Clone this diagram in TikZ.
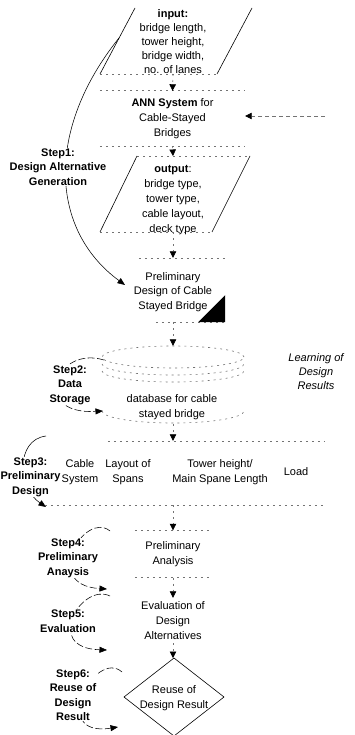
\documentclass[tikz,border=0pt]{standalone}
\usepackage{fontspec}
\setmainfont{Liberation Sans}
\usetikzlibrary{arrows.meta,calc,backgrounds}
\begin{document}
\begin{tikzpicture}[x=1pt,y=-1pt,
  txt/.style={font=\fontsize{11}{14.8}\selectfont, align=center, inner sep=0pt},
  lbl/.style={font=\fontsize{11}{14.5}\selectfont\bfseries, align=center, inner sep=0.5pt, fill=white},
  boxline/.style={black!55, line width=0.6pt, dash pattern=on 2pt off 4pt},
  side/.style={black, line width=0.6pt},
  arr/.style={black!55, line width=0.6pt, dash pattern=on 2pt off 4pt, -{Triangle[color=black,width=6.5pt,length=6.5pt]}},
  stepline/.style={black, line width=0.55pt, -{Triangle[width=6pt,length=7.5pt]}},
  brokenline/.style={dash pattern=on 7pt off 2.5pt},
  box/.style={rectangle, minimum width=#1, inner sep=0pt},
]
\useasboundingbox (0,0) rectangle (354,735);

% input
\coordinate (i1) at (135,8);
\coordinate (i2) at (252,8);
\coordinate (i3) at (217,74);
\coordinate (i4) at (100,74);
\draw[side] (i1) -- (i4) (i2) -- (i3);
\draw[boxline] (i4) -- (i3);
\node[txt, font=\fontsize{11}{14}\selectfont] (inp) at (173,42) {\textbf{input:}\\bridge length,\\tower height,\\bridge width,\\no. of lanes};
\coordinate (inb) at (173,74);

% ANN
\node[box=145pt, minimum height=55pt, txt] (ann) at (172.5,118.5) {\textbf{ANN System} for\\Cable-Stayed\\Bridges};
\draw[boxline] (ann.north west) -- (ann.north east) (ann.south west) -- (ann.south east);
\draw[arr] (inb) -- (ann.north);
\coordinate (lrn) at (325,116);
\draw[arr, dash pattern=on 4pt off 3pt] (lrn) -- (lrn -| ann.east);

% output
\coordinate (o1) at (137,156);
\coordinate (o2) at (250,156);
\coordinate (o3) at (212,232);
\coordinate (o4) at (100,232);
\draw[boxline] (o1) -- (o2) (o4) -- (o3);
\draw[side] (o1) -- (o4) (o2) -- (o3);
\node[txt] (outt) at (173,200) {\textbf{output}:\\bridge type,\\tower type,\\cable layout,\\deck type};
\coordinate (otop) at (173,156);
\coordinate (obot) at (173,232);
\draw[arr] (ann.south) -- (otop);

% preliminary design
\node[box=104pt, minimum height=64pt] (pd) at (173,290) {};
\node[txt] (pdt) at (173,292) {Preliminary\\Design of Cable\\Stayed Bridge};
\draw[boxline] ($(pd.north west)+(18,0)$) -- (pd.north east) ($(pd.south west)+(35,0)$) -- (pd.south east);
\fill (pd.south east) -- ++(0,-27) -- ++(-27,27) -- cycle;
\draw[arr] (obot) -- (pd.north);

% database
\node[box=142pt, minimum height=78pt] (db) at (173,385) {};
\coordinate (dbc) at (173,357);
\draw[boxline] (dbc) ellipse [x radius=71pt, y radius=11pt];
\draw[boxline] (102,364) arc[start angle=180, end angle=360, x radius=71pt, y radius=11pt];
\draw[boxline] (102,371) arc[start angle=180, end angle=360, x radius=71pt, y radius=11pt];
\draw[boxline] (102,411) arc[start angle=180, end angle=360, x radius=71pt, y radius=12pt];
\node[txt] (dbt) at (172,407) {database for cable\\stayed bridge};
\draw[arr] (pd.south) -- (db.north);

% learning
\node[txt, font=\fontsize{11}{14}\selectfont\itshape] (lrnt) at (316,372) {Learning of\\Design\\Results};

% step 3 box
\node[box=280pt, minimum height=64pt] (s3) at (185,473) {};
\draw[boxline] ($(s3.north west)+(63,0)$) -- (s3.north east) (s3.south west) -- (s3.south east);
\node[txt] (c1) at (80,472) {Cable\\System};
\node[txt] (c2) at (128,472) {Layout of\\Spans};
\node[txt] (c3) at (220,472) {Tower height/\\Main Spane Length};
\node[txt] (c4) at (296,472) {Load};
\draw[arr] (db.south) -- (db.south |- s3.north);

% preliminary analysis
\node[box=76pt, minimum height=47pt, txt] (pa) at (173,554) {Preliminary\\Analysis};
\draw[boxline] (pa.north west) -- (pa.north east) (pa.south west) -- (pa.south east);
\draw[arr] (db.south |- s3.south) -- (pa.north);

% evaluation
\node[box=90pt, minimum height=45pt, txt] (ev) at (173,620.5) {Evaluation of\\Design\\Alternatives};
\draw[arr] (pa.south) -- (ev.north);

% diamond
\node[txt] (dmt) at (174,698) {Reuse of\\Design Result};
\coordinate (dtop) at (174,658);
\coordinate (dr) at (224,697);
\coordinate (dbot) at (174,736);
\coordinate (dl) at (124,697);
\draw[side] (dtop) -- (dr) -- (dbot) -- (dl) -- cycle;
\draw[arr] (ev.south) -- (ev.south |- dtop);

% step labels
\node[lbl] (s1) at (58,167) {Step1:\\Design Alternative\\Generation};
\node[lbl] (s2) at (70,385) {Step2:\\Data\\Storage};
\node[lbl] (s3l) at (30.5,477) {Step3:\\Preliminary\\Design};
\node[lbl] (s4) at (68,558) {Step4:\\Preliminary\\Anaysis};
\node[lbl] (s5) at (68,621) {Step5:\\Evaluation};
\node[lbl] (s6) at (73,695) {Step6:\\Reuse of\\Design\\Result};

\begin{scope}[on background layer]
\draw[stepline] ($(i1)!0.45!(i4)$) .. controls (45,130) and (50,230) .. (125,285);
\draw[stepline, brokenline] (104,360) .. controls (55,345) and (30,415) .. (103,411);
\draw[stepline] (46,436) .. controls (15,440) and (18,488) .. (46,507);
\draw[stepline, brokenline] (110,531) .. controls (85,510) and (40,585) .. (107,589);
\draw[stepline, brokenline] (110,596) .. controls (82,582) and (42,648) .. (107,650);
\draw[stepline, brokenline] (122,672) .. controls (95,648) and (48,738) .. (118,727);
\end{scope}
\end{tikzpicture}
\end{document}
